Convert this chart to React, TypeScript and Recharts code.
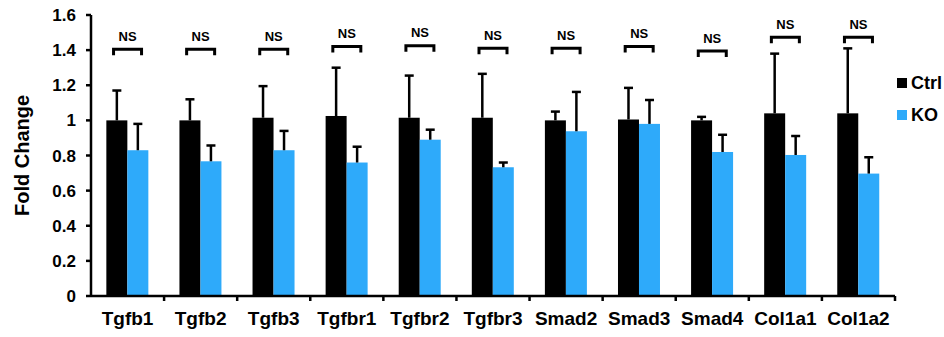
import { ComposedChart, Bar, Line, XAxis, YAxis, Legend } from "recharts";

// values (upward SEM whiskers only)
const GENES = ["Tgfb1", "Tgfb2", "Tgfb3", "Tgfbr1", "Tgfbr2", "Tgfbr3", "Smad2", "Smad3", "Smad4", "Col1a1", "Col1a2"];
const CTRL = [1.0, 1.0, 1.015, 1.025, 1.015, 1.015, 1.0, 1.005, 1.0, 1.04, 1.04];
const CTRL_ERR = [0.17, 0.12, 0.18, 0.275, 0.24, 0.25, 0.05, 0.18, 0.02, 0.34, 0.37];
const KO = [0.83, 0.767, 0.83, 0.76, 0.89, 0.733, 0.938, 0.98, 0.82, 0.803, 0.697];
const KO_ERR = [0.15, 0.09, 0.11, 0.09, 0.057, 0.027, 0.224, 0.136, 0.098, 0.108, 0.093];
const NS_LEVEL = [1.405, 1.405, 1.405, 1.42, 1.425, 1.41, 1.41, 1.42, 1.395, 1.473, 1.473];
const Y_TICKS = [0, 0.2, 0.4, 0.6, 0.8, 1, 1.2, 1.4, 1.6];

const BLUE = "#2EAAFA";
const FONT = "'Liberation Sans', Arial, sans-serif";

const data = GENES.map((gene, i) => ({
  gene,
  ctrl: CTRL[i],
  ctrlErr: CTRL_ERR[i],
  ko: KO[i],
  koErr: KO_ERR[i],
  ns: NS_LEVEL[i],
}));

// bar + one-sided error whisker, error length scaled by the bar's own px/unit
function barWithError(valKey: "ctrl" | "ko", errKey: "ctrlErr" | "koErr") {
  return (props: any) => {
    const { x, y, width, height, fill, payload } = props;
    const perUnit = height / payload[valKey];
    const top = y - payload[errKey] * perUnit;
    const cx = x + width / 2;
    return (
      <g>
        <rect x={x} y={y} width={width} height={height} fill={fill} />
        <line x1={cx} x2={cx} y1={y} y2={top} stroke="#000" strokeWidth={2.5} />
        <line x1={cx - 4.5} x2={cx + 4.5} y1={top} y2={top} stroke="#000" strokeWidth={2.5} />
      </g>
    );
  };
}

function NsBracket(props: any) {
  const { cx, cy, index } = props;
  if (cx == null || cy == null) return null;
  return (
    <g key={`ns-${index}`}>
      <path
        d={`M${cx - 14},${cy + 6} V${cy} H${cx + 14} V${cy + 6}`}
        fill="none"
        stroke="#000"
        strokeWidth={3}
      />
      <text x={cx} y={cy - 8.5} textAnchor="middle" fontSize={13} fontWeight="bold" fontFamily={FONT} fill="#000">
        NS
      </text>
    </g>
  );
}

function XTick(props: any) {
  const { x, y, payload } = props;
  const axisY = y - 16;
  const edge = x + (payload.offset ?? 0);
  return (
    <g>
      <line x1={edge} x2={edge} y1={axisY} y2={axisY + 5} stroke="#000" strokeWidth={2.5} />
      <text x={x} y={y} dy="0.71em" textAnchor="middle" fontSize={19} fontWeight="bold" fontFamily={FONT} fill="#000">
        {payload.value}
      </text>
    </g>
  );
}

function YLabel(props: any) {
  const vb = props.viewBox || { x: 0, y: 15, height: 281 };
  const cx = 22;
  const cy = vb.y + vb.height / 2;
  return (
    <text
      x={cx}
      y={cy}
      transform={`rotate(-90 ${cx} ${cy})`}
      textAnchor="middle"
      dominantBaseline="central"
      fontSize={20}
      fontWeight="bold"
      fontFamily={FONT}
      fill="#000"
    >
      Fold Change
    </text>
  );
}

function LegendBox({ payload }: any) {
  const items = (payload || []).filter((p: any) => p.type !== "none");
  return (
    <div style={{ display: "flex", flexDirection: "column" }}>
      {items.map((p: any) => (
        <div key={p.value} style={{ display: "flex", alignItems: "center", height: 32 }}>
          <span style={{ width: 10, height: 10, background: p.color, marginRight: 4, display: "inline-block" }} />
          <span style={{ fontSize: 18, fontWeight: "bold", fontFamily: FONT, color: "#000" }}>{p.value}</span>
        </div>
      ))}
    </div>
  );
}

export default function App() {
  return (
    <div style={{ position: "absolute", left: 0, top: 0, background: "#fff" }}>
      <ComposedChart
        width={944}
        height={337}
        data={data}
        margin={{ top: 15, right: 49, left: 0, bottom: 0 }}
        barCategoryGap="21%"
        barGap={0}
      >
        <XAxis
          dataKey="gene"
          height={41}
          tickSize={0}
          tickMargin={16}
          tickLine={false}
          axisLine={{ stroke: "#000", strokeWidth: 2.5 }}
          tick={<XTick />}
          interval={0}
        />
        <YAxis
          width={91}
          domain={[0, 1.6]}
          ticks={Y_TICKS}
          interval={0}
          tickSize={5}
          tickMargin={10}
          axisLine={{ stroke: "#000", strokeWidth: 2.5 }}
          tickLine={{ stroke: "#000", strokeWidth: 2.5 }}
          tick={{ fill: "#000", fontSize: 17, fontWeight: "bold", fontFamily: FONT }}
          label={<YLabel />}
        />
        <Legend
          layout="vertical"
          align="center"
          verticalAlign="middle"
          content={<LegendBox />}
          wrapperStyle={{ left: 897, top: 67, width: 47 }}
        />
        <Bar dataKey="ctrl" name="Ctrl" fill="#000" shape={barWithError("ctrl", "ctrlErr")} isAnimationActive={false} />
        <Bar dataKey="ko" name="KO" fill={BLUE} shape={barWithError("ko", "koErr")} isAnimationActive={false} />
        <Line
          dataKey="ns"
          stroke="none"
          dot={<NsBracket />}
          activeDot={false}
          legendType="none"
          isAnimationActive={false}
        />
      </ComposedChart>
    </div>
  );
}
